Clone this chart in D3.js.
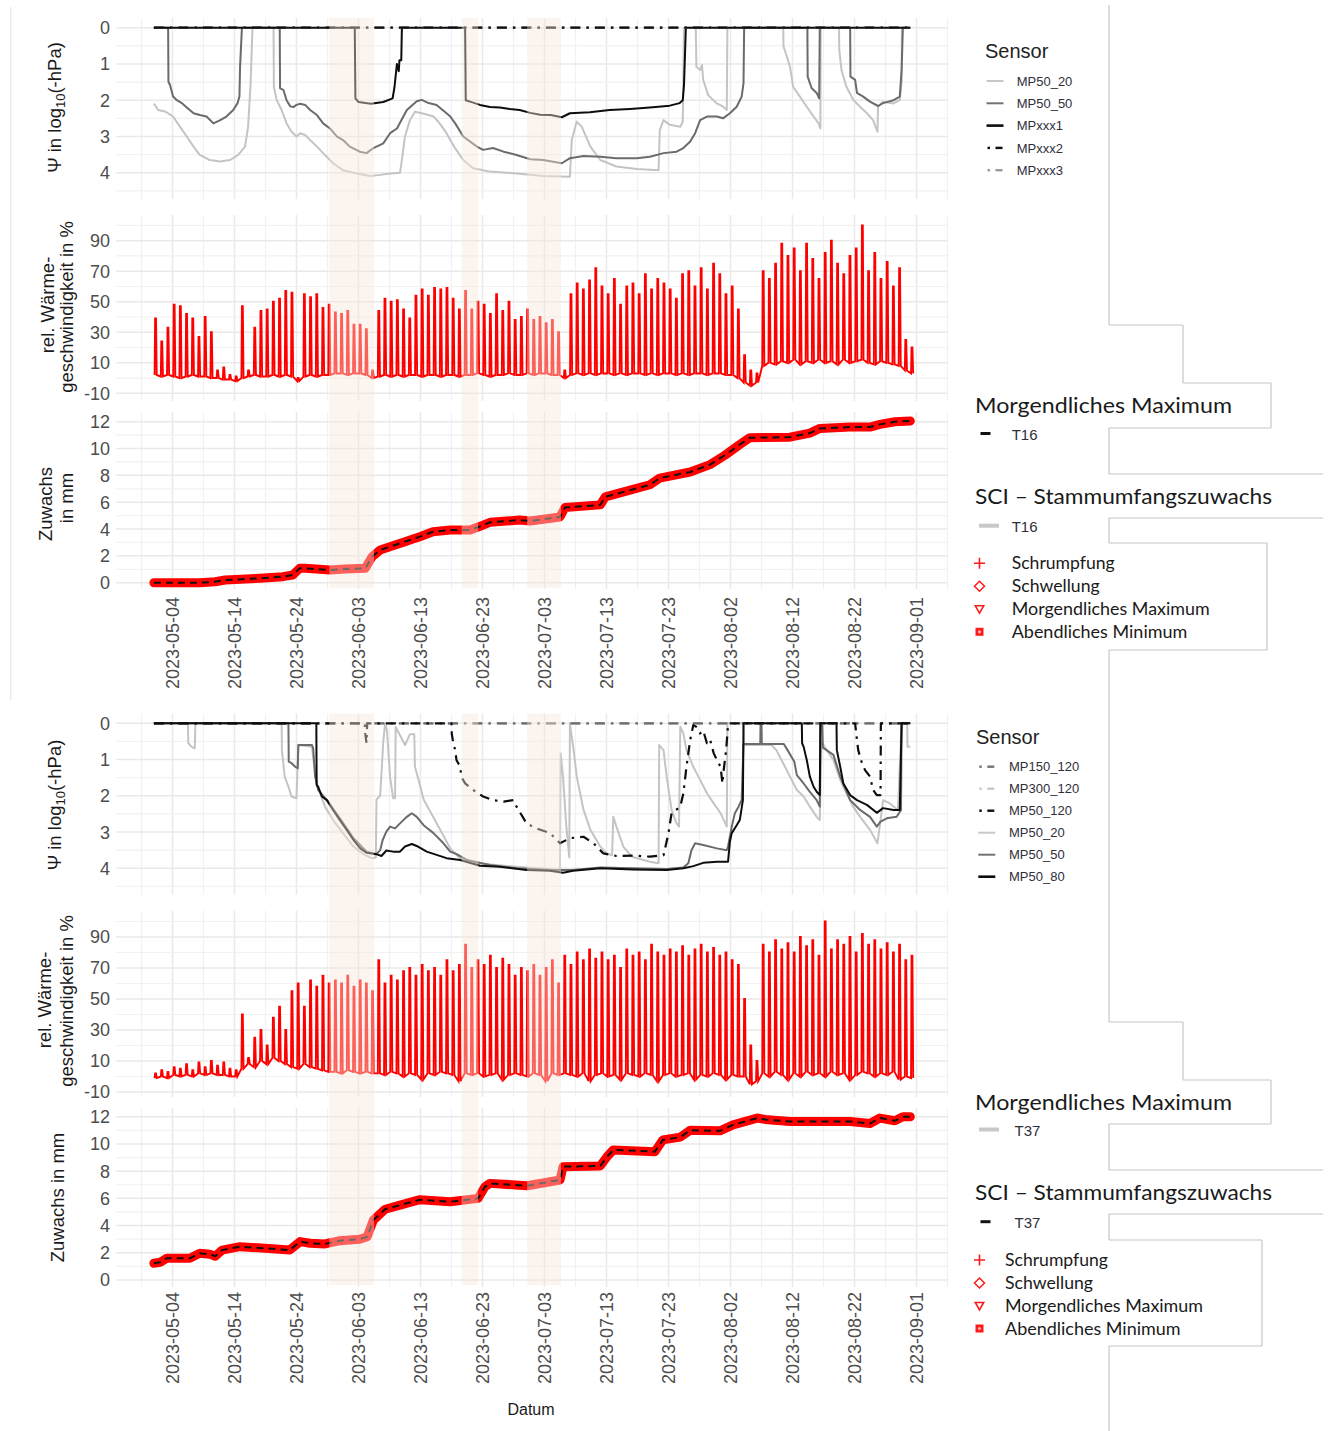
<!DOCTYPE html>
<html><head><meta charset="utf-8"><title>Bodenwasserpotential, Wärmegeschwindigkeit und Stammzuwachs 2023</title>
<script src="https://cdn.jsdelivr.net/npm/d3@7/dist/d3.min.js"></script>
<style>html,body{margin:0;padding:0;background:#fff}svg{display:block}</style>
</head><body>
<svg id="chart" width="1330" height="1431"></svg>
<script>
// ---------- Data: day index = days since 2023-05-01 00:00 ----------
const tickDates = ["2023-05-04","2023-05-14","2023-05-24","2023-06-03","2023-06-13","2023-06-23",
  "2023-07-03","2023-07-13","2023-07-23","2023-08-02","2023-08-12","2023-08-22","2023-09-01"];
const psiTicks = [0, 1, 2, 3, 4];
const sapTicks = [90, 70, 50, 30, 10, -10];
const growthTicks = [0, 2, 4, 6, 8, 10, 12];

// dry periods highlighted in all panels (start/end day)
const periodStart = [28.3, 49.65, 60.2];
const periodEnd   = [35.5, 52.3, 65.66];

// ---- Tree T16: soil water potential, [day, log10(-hPa)] ----
const t16_MP50_20 = [[0,2.09],[0.7,2.27],[1.8,2.31],[3.1,2.45],[4.2,2.73],[5.3,3.0],[6.4,3.28],[7.4,3.51],[9.0,3.65],[10.7,3.69],[12.3,3.65],[13.6,3.51],[14.7,3.28],[15.2,2.73],[15.6,1.53],[15.9,0],[19.3,0],[19.35,1.63],[19.8,1.99],[20.6,2.27],[21.4,2.64],[22.2,2.87],[23.0,3.0],[23.6,2.91],[24.4,2.96],[25.2,3.1],[26.3,3.28],[27.3,3.46],[28.9,3.74],[30.5,3.93],[32.7,4.02],[34.9,4.09],[36.5,4.06],[38.1,4.02],[39.7,4.0],[40.0,3.65],[40.5,3.0],[41.3,2.55],[42.1,2.32],[43.2,2.36],[44.3,2.41],[45.1,2.45],[46.1,2.64],[47.2,2.91],[47.8,3.1],[48.6,3.33],[49.9,3.65],[51.5,3.88],[54.2,3.97],[58.5,4.02],[62.8,4.09],[67.1,4.11],[67.4,3.1],[68.2,2.59],[69.0,2.73],[70.4,3.28],[72.0,3.65],[74.6,3.83],[77.9,3.9],[81.4,3.93],[81.6,2.82],[82.2,2.55],[83.2,2.68],[84.9,2.73],[85.3,2.6],[85.5,0],[87.4,0],[87.5,1.08],[88.1,1.17],[88.4,1.03],[88.6,1.44],[89.4,1.86],[90.8,2.09],[91.8,2.18],[92.4,2.27],[92.5,0],[101.5,0],[101.55,0.52],[102.1,0.8],[102.6,1.08],[103.1,1.63],[104.2,1.9],[105.3,2.18],[106.4,2.45],[107.2,2.64],[107.5,2.78],[107.55,0],[110.5,0],[110.55,0.62],[110.9,1.17],[111.7,1.63],[112.8,1.99],[113.9,2.18],[115.0,2.36],[116.0,2.55],[116.7,2.87],[116.8,2.18],[117.6,2.04],[119.3,2.09],[120.3,1.99],[120.6,1.49],[120.65,0],[122,0]];
const t16_MP50_50 = [[0,0],[2.3,0],[2.35,1.49],[2.6,1.58],[3.1,1.9],[3.7,2.0],[4.5,2.08],[5.3,2.2],[6.4,2.36],[7.4,2.41],[8.5,2.45],[9.6,2.64],[10.7,2.55],[11.7,2.45],[12.8,2.27],[13.5,2.08],[13.8,1.9],[13.9,1.08],[14.2,0],[20.3,0],[20.35,1.67],[20.9,1.72],[21.4,2.0],[22.0,2.17],[22.5,2.19],[23.0,2.13],[23.6,2.1],[24.4,2.13],[25.2,2.27],[26.3,2.41],[27.3,2.64],[28.4,2.78],[29.5,3.0],[30.5,3.1],[31.6,3.28],[33.2,3.42],[34.3,3.46],[35.4,3.32],[37.0,3.19],[38.1,2.91],[39.2,2.78],[40.8,2.27],[42.4,2.03],[43.2,1.99],[44.3,2.08],[45.6,2.13],[47.2,2.36],[47.8,2.45],[48.6,2.64],[49.9,3.0],[52.1,3.28],[53.1,3.37],[54.7,3.32],[56.4,3.42],[58.5,3.51],[60.7,3.63],[62.8,3.65],[65.8,3.74],[67.1,3.6],[69.3,3.54],[72.0,3.56],[74.6,3.6],[77.9,3.6],[80.0,3.56],[82.2,3.46],[84.3,3.42],[85.4,3.32],[86.5,3.14],[87.3,2.91],[88.1,2.55],[89.2,2.45],[90.8,2.45],[91.8,2.5],[92.9,2.36],[94.0,2.18],[94.8,1.9],[95.1,1.53],[95.2,0],[105.4,0],[105.45,1.35],[105.8,1.53],[106.1,1.67],[106.9,1.8],[107.3,1.95],[107.4,0],[112.3,0],[112.35,1.35],[113.1,1.44],[113.4,1.8],[114.4,1.9],[115.5,2.04],[116.8,2.16],[117.6,2.08],[119.3,2.0],[120.3,1.9],[120.6,1.17],[120.8,0],[122,0]];
const t16_MPxxx1 = [[0,0],[32.4,0],[32.5,1.95],[33,2.05],[35,2.1],[37,2.05],[38.5,1.95],[38.8,1.65],[39.2,1.0],[39.5,1.2],[39.6,0.9],[39.9,0.9],[40.0,0],[50.2,0],[50.3,2.0],[51,2.04],[52.6,2.13],[54.2,2.19],[55.8,2.2],[57.4,2.24],[59,2.27],[60.7,2.35],[62.3,2.4],[64.0,2.41],[65.8,2.47],[67.1,2.36],[70.3,2.33],[73.5,2.27],[76.8,2.24],[80,2.2],[83.2,2.15],[84.8,2.08],[85.3,2.0],[85.5,1.58],[85.8,0],[122,0]];
const t16_MPxxx2 = [[0,0],[122,0]];
const t16_MPxxx3 = [[0,0],[122,0]];

// ---- Tree T37: soil water potential ----
const t37_MP150_120 = [[0,0],[122,0]];
const t37_MP300_120 = [[0,0],[122,0]];
const t37_MP50_120 = [[0,0],[34.0,0],[34.1,0.3],[34.3,0.55],[34.4,0],[48.0,0],[48.05,0.3],[48.3,0.55],[48.6,0.74],[48.8,1.01],[49.4,1.2],[49.6,1.47],[50.2,1.66],[51.5,1.84],[53.1,2.02],[54.7,2.12],[56.4,2.16],[58.0,2.12],[58.5,2.3],[60.1,2.76],[61.7,2.9],[63.9,3.03],[65.5,3.31],[67.1,3.17],[69.3,3.13],[70.9,3.31],[72.5,3.59],[74.6,3.66],[77.3,3.65],[80.0,3.68],[82.2,3.64],[83.0,3.03],[83.5,2.48],[84.9,2.3],[85.4,1.93],[85.9,1.2],[86.5,0.46],[87.0,0.05],[87.5,0.1],[88.1,0.28],[88.6,0.2],[89.2,0.55],[89.7,0.45],[90.3,0.83],[90.8,1.01],[91.4,1.2],[91.7,1.66],[91.9,1.29],[92.3,0.74],[92.6,0.05],[92.7,0],[113.1,0],[113.4,0.46],[113.6,0.74],[114.2,1.1],[114.7,1.29],[115.5,1.47],[116.0,1.84],[116.6,1.98],[117.2,1.98],[117.25,0],[122,0]];
const t37_MP50_20 = [[0,0],[5.5,0],[5.55,0.55],[6.1,0.65],[6.6,0.69],[6.7,0],[20.6,0],[20.65,0.74],[21.1,1.47],[21.7,1.75],[22.2,2.02],[23.0,2.07],[23.3,0.6],[25.5,0.65],[25.7,0.97],[26.3,1.66],[26.8,1.93],[27.6,2.3],[28.9,2.67],[30.5,3.03],[32.2,3.4],[33.8,3.61],[35.1,3.72],[35.8,3.7],[35.9,2.1],[36.5,2.0],[37.0,0.5],[37.3,0],[37.6,0.2],[38.1,1.5],[38.6,2.07],[38.9,2.07],[39.0,0.1],[40.5,0.6],[41.3,0.3],[42.0,0.3],[42.1,1.2],[42.6,1.5],[43.5,2.1],[45.1,2.6],[46.7,3.1],[47.8,3.45],[48.6,3.6],[49.4,3.72],[52.1,3.86],[58.5,3.96],[65.5,4.05],[65.6,0.83],[66.0,1.5],[66.5,2.8],[67.0,3.7],[67.1,0],[67.7,0.74],[68.2,1.47],[69.3,2.39],[70.4,2.94],[72.0,3.4],[73.0,3.59],[73.9,3.64],[74.1,2.58],[74.6,2.85],[75.7,3.4],[77.1,3.68],[80.0,3.82],[81.4,3.86],[81.5,0.6],[82.2,0.74],[82.7,1.47],[83.5,2.39],[84.3,2.76],[84.7,2.85],[84.9,0.09],[85.4,0.28],[85.9,0.74],[87.0,1.2],[88.1,1.56],[89.2,1.93],[90.3,2.21],[91.4,2.48],[92.4,2.85],[92.5,0],[95.1,0],[95.2,0.6],[99.6,0.6],[100.4,0.74],[101.5,1.1],[102.6,1.47],[103.7,1.84],[104.8,2.02],[105.8,2.3],[106.9,2.58],[107.4,2.67],[107.7,0.5],[108.5,0.74],[109.6,1.01],[110.7,1.56],[111.7,1.93],[112.8,2.3],[113.9,2.58],[115.5,2.94],[116.7,3.31],[117.2,2.67],[117.6,2.12],[118.7,2.21],[120.0,2.39],[120.6,0],[121.5,0],[121.55,0.65],[122,0.65]];
const t37_MP50_50 = [[0,0],[21.7,0],[21.75,1.06],[22.2,1.1],[22.8,1.2],[23.2,1.24],[23.3,0.6],[25.5,0.6],[25.7,0.69],[26.0,1.47],[26.5,1.84],[27.9,2.12],[30.0,2.62],[32.2,3.17],[34.3,3.54],[35.9,3.61],[36.5,3.5],[36.9,3.22],[37.5,2.99],[38.1,2.85],[38.9,2.9],[39.7,2.76],[40.8,2.58],[41.6,2.48],[42.4,2.58],[43.5,2.81],[45.1,3.03],[46.7,3.31],[47.8,3.54],[48.6,3.59],[50.5,3.77],[54.2,3.91],[58.5,4.0],[63.9,4.05],[67.6,4.05],[72,3.98],[77.3,4.0],[82.7,4.02],[85.4,3.98],[86.2,3.86],[86.7,3.5],[87.3,3.31],[88.6,3.36],[90.8,3.45],[92.4,3.5],[92.6,3.4],[93.2,2.85],[93.7,2.48],[94.3,2.3],[94.8,2.12],[95.1,0.57],[97.8,0.57],[97.85,0],[98.0,0],[98.05,0.57],[101.6,0.57],[102.2,0.74],[103.3,1.06],[103.7,1.43],[104.8,1.66],[105.8,1.89],[106.9,2.12],[107.4,2.3],[107.5,0],[107.8,0],[107.9,0.67],[108.5,0.74],[109.6,0.87],[110.7,1.47],[112.3,2.12],[113.9,2.39],[115.5,2.58],[116.6,2.85],[117.2,2.71],[118.2,2.62],[119.8,2.58],[120.5,2.39],[120.6,0],[122,0]];
const t37_MP50_80 = [[0,0],[26.2,0],[26.25,1.7],[26.5,1.75],[27.1,2.02],[27.9,2.12],[28.9,2.39],[30.0,2.67],[31.1,2.94],[32.2,3.22],[33.3,3.45],[34.3,3.57],[35.9,3.61],[36.7,3.66],[37.5,3.51],[38.6,3.54],[39.7,3.54],[40.5,3.4],[41.6,3.33],[42.6,3.4],[44.0,3.54],[45.6,3.63],[47.2,3.72],[49.4,3.77],[52.6,3.93],[55.8,3.96],[60.1,4.05],[63.9,4.07],[66.0,4.12],[67.6,4.07],[72.0,4.0],[77.3,4.03],[82.7,4.05],[85.4,4.0],[87.0,3.94],[88.6,3.85],[90.8,3.82],[92.6,3.82],[92.9,3.27],[93.2,3.03],[94.0,2.81],[94.5,2.67],[95.0,2.12],[95.1,0],[104.5,0],[104.55,0.55],[104.8,0.65],[105.3,1.01],[105.8,1.47],[106.4,1.75],[106.9,1.89],[107.4,1.98],[107.5,0],[110.1,0],[110.15,0.74],[110.7,1.2],[111.2,1.66],[112.3,1.98],[113.4,2.12],[115.0,2.25],[116.6,2.47],[117.6,2.34],[119.3,2.39],[120.3,2.39],[120.6,0],[122,0]];

// ---- relative heat velocity (%): daily maximum and night base, one value per day 0..122 ----
const t16_sapPeak = [39,24,33,48,47,42,39,27,40,30,5,7,2,1,47,5,33,44,45,50,52,57,56,0,55,53,55,46,48,43,42,44,35,35,32,5,44,52,50,51,45,39,54,58,54,59,58,59,
  52,45,57,45,50,48,42,55,44,50,38,40,45,38,40,36,38,30,5,55,62,58,64,72,60,55,65,48,60,62,55,68,58,65,62,58,52,68,70,60,72,58,75,68,55,60,45,15,5,3,
  70,65,75,88,80,85,70,88,78,65,82,90,75,68,80,85,100,70,82,65,76,60,72,25,20];
const t16_sapBase = [2,1,2,1,0,1,2,1,1,0, 0,-1,-1,-2, 0,1,2,1,1,2,1,2,1, -2, 1,2,1,2,2,3,3,2,3,3,2, 0, 1,2,1,2,1,2,2,1,2,2,1,2,
  2,1,2,2,3,2,1,2,2,3,2,2,3,2,3,3,2,2, 0, 2,3,2,3,2,3,3,2,3,2,3,3,2,3,2,3,3,2,3,2,3,3,2,3,3,2,2,0, -3,-5,-3,
  8,10,9,11,10,12,9,11,10,12,10,11,9,12,10,11,12,10,9,11,10,9,8,5,3];
const t37_sapPeak = [2,4,3,6,5,8,4,9,6,10,7,9,5,4, 40,12,25,30,20,38,45,30,55,60,45,62,58,65,60, 62,60,65,58,62,60,55,
  75,60,65,62,68,70,65,72,68,70,65,75,68,72,85,70,75,72,78,70,76,72,65,70,68,72,65,70,75,60,
  78,72,80,75,82,76,80,75,78,70,82,78,80,75,85,80,78,82,80,84,78,82,85,80,83,78,80,75,72, 50,20,10,
  85,80,88,82,86,80,90,84,88,78,100,82,88,85,90,80,92,85,88,82,86,80,85,75,78];
const t37_sapBase = [-1,0,-1,1,0,1,0,2,1,2,1,1,0,0, 5,8,6,10,8,12,10,8,6,5,8,6,5,4,3, 3,2,4,3,2,3,2,
  2,1,3,2,0,2,1,-2,2,1,3,2,1,-3,2,1,2,0,1,2,-2,1,2,1,0,2,1,-3,2,1,
  2,1,0,2,-3,1,2,0,1,-2,2,1,0,2,1,-3,1,2,0,1,2,-2,1,0,2,1,-2,1,0, 0,-5,-3,
  2,0,3,1,-2,2,0,3,1,2,0,3,1,2,-2,1,3,2,0,2,1,3,-2,0,-1];

// ---- stem circumference increment (mm), [day, mm] ----
const t16_growth = [[0,0],[7.4,0],[9.9,0.07],[11.5,0.2],[17.1,0.33],[20.8,0.45],[22.4,0.57],[23.5,1.07],[24.4,1.07],[28.4,0.95],[30.8,1.02],[34.1,1.07],[35.2,1.94],[36.5,2.44],[38.9,2.81],[40.5,3.06],[41.3,3.18],[42.9,3.43],[45.0,3.8],[47.8,3.93],[51.0,3.93],[52.6,4.2],[54.2,4.5],[59.0,4.67],[60.7,4.6],[65.5,4.9],[66.3,5.6],[72.0,5.8],[72.8,6.4],[76.8,6.9],[80.0,7.3],[81.6,7.8],[86.5,8.25],[89.7,8.8],[92.1,9.5],[94.5,10.3],[96.1,10.8],[102.6,10.85],[105.8,11.15],[107.4,11.5],[112.3,11.6],[115.5,11.6],[117.1,11.8],[119.5,12.0],[122,12.05]];
const t37_growth = [[0,1.23],[1.0,1.3],[2.1,1.6],[5.8,1.6],[7.4,1.96],[9.0,1.9],[9.9,1.75],[11.0,2.2],[13.9,2.45],[17.9,2.33],[21.9,2.2],[23.6,2.82],[25.2,2.7],[27.6,2.65],[30.0,2.89],[33.2,3.0],[34.4,3.18],[35.4,4.4],[37.3,5.2],[39.7,5.5],[42.9,5.9],[47.8,5.75],[52.3,6.0],[53.4,6.86],[54.2,7.1],[60.2,6.93],[65.5,7.35],[66.0,8.33],[72.0,8.38],[73.1,9.07],[74.1,9.56],[80.8,9.43],[82.1,10.3],[84.9,10.5],[86.5,11.0],[91.3,10.96],[93.4,11.4],[97.3,11.9],[98.6,11.8],[102.6,11.64],[112.3,11.64],[115.5,11.5],[117.1,11.9],[119.5,11.7],[120.8,12.0],[122,12.0]];

// ---------- Scales & layout ----------
const svg = d3.select("#chart");
const AX = "'Liberation Sans', Arial, Helvetica, sans-serif";
const LG = "Lato, 'Open Sans', 'Noto Sans', sans-serif";
const DAY = 864e5, T0 = Date.UTC(2023, 4, 1);
const toDate = d => new Date(T0 + d * DAY);
const parse = d3.utcParse("%Y-%m-%d");
const X0 = 116, X1 = 948;
const x = d3.scaleUtc().domain([toDate(-6.11), toDate(128.08)]).range([X0, X1]);

const panels = [
  { psi: {top: 18, bottom: 199, r: [27.7, 172.7]},
    sap: {top: 215, bottom: 401, r: [240.7, 393.3]},
    gr:  {top: 412, bottom: 589, r: [582.7, 421.7]},
    shade: [18, 588], xlab: 597,
    psiSeries: [
      {d: t16_MP50_20, c: "#c4c4c4"}, {d: t16_MP50_50, c: "#6b6b6b"}, {d: t16_MPxxx1, c: "#0d0d0d"},
      {d: t16_MPxxx3, c: "#8c8c8c", dash: true}, {d: t16_MPxxx2, c: "#0d0d0d", dash: true}],
    sapPeak: t16_sapPeak, sapBase: t16_sapBase, growth: t16_growth },
  { psi: {top: 713.6, bottom: 894.6, r: [723.3, 868.3]},
    sap: {top: 910.6, bottom: 1097, r: [937, 1092]},
    gr:  {top: 1108, bottom: 1287, r: [1280, 1116.7]},
    shade: [713.6, 1285], xlab: 1292,
    psiSeries: [
      {d: t37_MP50_20, c: "#c4c4c4"}, {d: t37_MP50_50, c: "#6b6b6b"},
      {d: t37_MP300_120, c: "#c4c4c4", dash: true}, {d: t37_MP150_120, c: "#6b6b6b", dash: true},
      {d: t37_MP50_120, c: "#0d0d0d", dash: true}, {d: t37_MP50_80, c: "#0d0d0d"}],
    sapPeak: t37_sapPeak, sapBase: t37_sapBase, growth: t37_growth }
];

const defs = svg.append("defs");
let clipN = 0;
function clipFor(box) {
  const id = "clip" + (clipN++);
  defs.append("clipPath").attr("id", id).append("rect")
    .attr("x", X0).attr("y", box.top).attr("width", X1 - X0).attr("height", box.bottom - box.top);
  return "url(#" + id + ")";
}

function grid(g, box, y, vals, isMajor) {
  const gridDays = d3.range(-2, 129, 5);
  g.selectAll(null).data(gridDays).join("line")
    .attr("x1", d => x(toDate(d))).attr("x2", d => x(toDate(d)))
    .attr("y1", box.top).attr("y2", box.bottom)
    .attr("stroke", d => ((d - 3) % 10 === 0) ? "#e9e9e9" : "#f1f1f1")
    .attr("stroke-width", d => ((d - 3) % 10 === 0) ? 1.5 : 1.2);
  g.selectAll(null).data(vals.filter(v => y(v) >= box.top && y(v) <= box.bottom)).join("line")
    .attr("x1", X0).attr("x2", X1).attr("y1", d => y(d)).attr("y2", d => y(d))
    .attr("stroke", d => isMajor(d) ? "#e9e9e9" : "#f1f1f1")
    .attr("stroke-width", d => isMajor(d) ? 1.5 : 1.2);
}

function yTicks(g, y, ticks) {
  g.selectAll(null).data(ticks).join("text")
    .attr("x", 110).attr("y", d => y(d)).attr("dy", "0.36em")
    .attr("text-anchor", "end").attr("font-family", AX).attr("font-size", 18)
    .attr("fill", "#4d4d4d").text(d => d);
}

panels.forEach(P => {
  const g = svg.append("g");
  const yPsi = d3.scaleLinear().domain([0, 4]).range(P.psi.r);
  const ySap = d3.scaleLinear().domain([90, -10]).range(P.sap.r);
  const yGr  = d3.scaleLinear().domain([0, 12]).range(P.gr.r);

  grid(g, P.psi, yPsi, d3.range(0, 4.51, 0.5), v => Number.isInteger(v));
  grid(g, P.sap, ySap, d3.range(-10, 101, 10), v => (v + 10) % 20 === 0);
  grid(g, P.gr,  yGr,  d3.range(0, 13, 1), v => v % 2 === 0);

  yTicks(g, yPsi, psiTicks);
  yTicks(g, ySap, sapTicks);
  yTicks(g, yGr, growthTicks);

  // soil water potential
  const gp = g.append("g").attr("clip-path", clipFor(P.psi));
  const lPsi = d3.line().x(d => x(toDate(d[0]))).y(d => yPsi(d[1]));
  P.psiSeries.forEach(s => {
    gp.append("path").attr("d", lPsi(s.d)).attr("fill", "none")
      .attr("stroke", s.c).attr("stroke-width", s.dash ? 2.2 : 2)
      .attr("stroke-dasharray", s.dash ? "10,6,2.5,6" : null)
      .attr("stroke-linejoin", "round");
  });

  // heat velocity: one daytime spike per day between night base and daily maximum
  const gs = g.append("g").attr("clip-path", clipFor(P.sap));
  const sapPts = [];
  P.sapPeak.forEach((p, i) => {
    const b = P.sapBase[i];
    sapPts.push([i + 0.12, b], [i + 0.2, p], [i + 0.34, p], [i + 0.46, b]);
  });
  gs.append("path").attr("d", d3.line().x(d => x(toDate(d[0]))).y(d => ySap(d[1]))(sapPts))
    .attr("fill", "none").attr("stroke", "#ff0000").attr("stroke-width", 1.9).attr("stroke-linejoin", "miter");

  // stem increment: red marker band with dashed morning maximum line
  const gg = g.append("g").attr("clip-path", clipFor({top: P.gr.top, bottom: P.gr.bottom + 4}));
  const lGr = d3.line().x(d => x(toDate(d[0]))).y(d => yGr(d[1]));
  gg.append("path").attr("d", lGr(P.growth)).attr("fill", "none")
    .attr("stroke", "#ff0000").attr("stroke-width", 9).attr("stroke-linejoin", "round").attr("stroke-linecap", "round");
  gg.append("path").attr("d", lGr(P.growth)).attr("fill", "none")
    .attr("stroke", "#111").attr("stroke-width", 2).attr("stroke-dasharray", "7,5");

  // highlighted periods
  g.selectAll(null).data(periodStart).join("rect")
    .attr("x", (d) => x(toDate(d)))
    .attr("width", (d, i) => x(toDate(periodEnd[i])) - x(toDate(d)))
    .attr("y", P.shade[0]).attr("height", P.shade[1] - P.shade[0])
    .attr("fill", "#f8e4da").attr("opacity", 0.42);

  // date labels
  g.selectAll(null).data(tickDates).join("text")
    .attr("transform", d => `translate(${x(parse(d))},${P.xlab}) rotate(-90)`)
    .attr("dy", "0.36em").attr("text-anchor", "end")
    .attr("font-family", AX).attr("font-size", 18).attr("fill", "#4d4d4d").text(d => d);
});

// ---------- axis titles ----------
function vtext(xb, yc, size) {
  return svg.append("text").attr("transform", `translate(${xb},${yc}) rotate(-90)`)
    .attr("text-anchor", "middle").attr("font-family", AX).attr("font-size", size || 18.5).attr("fill", "#1a1a1a");
}
function psiTitle(xb, yc) {
  const t = vtext(xb, yc);
  t.append("tspan").text("\u03A8 in log");
  t.append("tspan").attr("font-size", 13).attr("dy", 4).text("10");
  t.append("tspan").attr("dy", -4).text("(-hPa)");
}
psiTitle(61, 107.5);
psiTitle(61, 805);
vtext(54, 305).text("rel. Wärme-");
vtext(73, 307).text("geschwindigkeit in %");
vtext(52, 504).text("Zuwachs");
vtext(73, 498).text("in mm");
vtext(51, 1000).text("rel. Wärme-");
vtext(73, 1001).text("geschwindigkeit in %");
vtext(63.5, 1197.5).text("Zuwachs in mm");
svg.append("text").attr("x", 531).attr("y", 1415).attr("text-anchor", "middle")
  .attr("font-family", AX).attr("font-size", 16).attr("fill", "#1a1a1a").text("Datum");

// ---------- legends ----------
const sensorTop = [
  {n: "MP50_20", c: "#c8c8c8"}, {n: "MP50_50", c: "#737373"}, {n: "MPxxx1", c: "#0d0d0d", w: 2.6},
  {n: "MPxxx2", c: "#0d0d0d", dash: true}, {n: "MPxxx3", c: "#9a9a9a", dash: true}];
const sensorBottom = [
  {n: "MP150_120", c: "#737373", dash: true}, {n: "MP300_120", c: "#c8c8c8", dash: true},
  {n: "MP50_120", c: "#0d0d0d", dash: true}, {n: "MP50_20", c: "#c8c8c8"},
  {n: "MP50_50", c: "#737373"}, {n: "MP50_80", c: "#0d0d0d", w: 2.6}];

function sensorLegend(x0, yTitle, rows, keyX, textX, rowY, step) {
  svg.append("text").attr("x", x0).attr("y", yTitle).attr("font-family", AX).attr("font-size", 20)
    .attr("fill", "#222").text("Sensor");
  rows.forEach((r, i) => {
    const yy = rowY + i * step;
    if (r.dash) {
      svg.append("line").attr("x1", keyX + 1).attr("x2", keyX + 3.5).attr("y1", yy).attr("y2", yy)
        .attr("stroke", r.c).attr("stroke-width", 2.4);
      svg.append("line").attr("x1", keyX + 9).attr("x2", keyX + 16).attr("y1", yy).attr("y2", yy)
        .attr("stroke", r.c).attr("stroke-width", 2.4);
    } else {
      svg.append("line").attr("x1", keyX).attr("x2", keyX + 17).attr("y1", yy).attr("y2", yy)
        .attr("stroke", r.c).attr("stroke-width", r.w || 2);
    }
    svg.append("text").attr("x", textX).attr("y", yy).attr("dy", "0.36em").attr("font-family", AX)
      .attr("font-size", 13).attr("fill", "#2f2f3a").text(r.n);
  });
}
sensorLegend(985, 58, sensorTop, 986.5, 1016.7, 81, 22.3);
sensorLegend(976, 744, sensorBottom, 978.3, 1009, 766.7, 22);

const markerLabels = ["Schrumpfung", "Schwellung", "Morgendliches Maximum", "Abendliches Minimum"];
const markerWidths = [103, 88, 198, 175.6];
function bigLegend(o) {
  svg.append("text").attr("x", 975).attr("y", o.t1).attr("font-family", LG).attr("font-size", 21)
    .attr("fill", "#1a1a1a").attr("textLength", 257).attr("lengthAdjust", "spacingAndGlyphs")
    .text("Morgendliches  Maximum");
  drawKey(o.k1, o.k1y);
  svg.append("text").attr("x", o.tx).attr("y", o.k1y + 6).attr("font-family", AX).attr("font-size", 15)
    .attr("fill", "#2f2f3a").text(o.tree);
  svg.append("text").attr("x", 975).attr("y", o.t2).attr("font-family", LG).attr("font-size", 21)
    .attr("fill", "#1a1a1a").attr("textLength", 297).attr("lengthAdjust", "spacingAndGlyphs")
    .text("SCI \u2013 Stammumfangszuwachs");
  drawKey(o.k2, o.k2y);
  svg.append("text").attr("x", o.tx).attr("y", o.k2y + 6).attr("font-family", AX).attr("font-size", 15)
    .attr("fill", "#2f2f3a").text(o.tree);
  markerLabels.forEach((m, i) => {
    const yy = o.m0 + i * 23;
    const s = svg.append("g").attr("transform", `translate(979.5,${yy})`);
    if (i === 0) s.append("path").attr("d", "M-5.5,0H5.5M0,-5.5V5.5").attr("stroke", "#ff1a1a").attr("stroke-width", 1.6);
    if (i === 1) s.append("path").attr("d", "M0,-5L5,0L0,5L-5,0Z").attr("fill", "none").attr("stroke", "#ff1a1a").attr("stroke-width", 1.5);
    if (i === 2) s.append("path").attr("d", "M-4.2,-3.5H4.2L0,3.8Z").attr("fill", "none").attr("stroke", "#ff1a1a").attr("stroke-width", 1.6);
    if (i === 3) {
      s.append("rect").attr("x", -4).attr("y", -4.5).attr("width", 8).attr("height", 8).attr("fill", "#ff1a1a");
      s.append("circle").attr("r", 1.6).attr("cy", -0.5).attr("fill", "#ffb0b0");
    }
    svg.append("text").attr("x", o.mx).attr("y", yy + 6).attr("font-family", LG).attr("font-size", 17.5)
      .attr("fill", "#1a1a1a").attr("textLength", markerWidths[i]).attr("lengthAdjust", "spacingAndGlyphs").text(m);
  });
}
function drawKey(k, yy) {
  if (k === "black") svg.append("line").attr("x1", 980.5).attr("x2", 990.5).attr("y1", yy).attr("y2", yy).attr("stroke", "#111").attr("stroke-width", 3);
  else svg.append("line").attr("x1", 979).attr("x2", 999).attr("y1", yy).attr("y2", yy).attr("stroke", "#c8c8c8").attr("stroke-width", 4);
}
bigLegend({t1: 413, k1: "black", k1y: 433.5, t2: 503.5, k2: "gray", k2y: 525.7, tx: 1011.7, tree: "T16", m0: 563.3, mx: 1011.7});
bigLegend({t1: 1110, k1: "gray", k1y: 1129.5, t2: 1199.5, k2: "black", k2y: 1221.7, tx: 1014.5, tree: "T37", m0: 1260, mx: 1005});

// ---------- page frame lines ----------
const frame = [[1109,5,1109,325],[1109,325,1183,325],[1183,325,1183,383],[1183,383,1271,383],[1271,383,1271,428],
  [1109,428,1271,428],[1109,428,1109,474],[1109,474,1323,474],[1109,518,1323,518],[1109,518,1109,543],
  [1109,543,1267,543],[1267,543,1267,650],[1109,650,1267,650],[1109,650,1109,1022],[1109,1022,1183,1022],
  [1183,1022,1183,1080],[1183,1080,1271,1080],[1271,1080,1271,1124],[1109,1124,1271,1124],[1109,1124,1109,1170],
  [1109,1170,1323,1170],[1109,1214,1323,1214],[1109,1214,1109,1240],[1109,1240,1262,1240],[1262,1240,1262,1346],
  [1109,1346,1262,1346],[1109,1346,1109,1431],[10.7,7,10.7,700]];
svg.append("g").selectAll("line").data(frame).join("line")
  .attr("x1", d => d[0]).attr("y1", d => d[1]).attr("x2", d => d[2]).attr("y2", d => d[3])
  .attr("stroke", (d, i) => i === frame.length - 1 ? "#e6e6e6" : "#c6c6c6").attr("stroke-width", 1.2);
</script>
</body></html>
